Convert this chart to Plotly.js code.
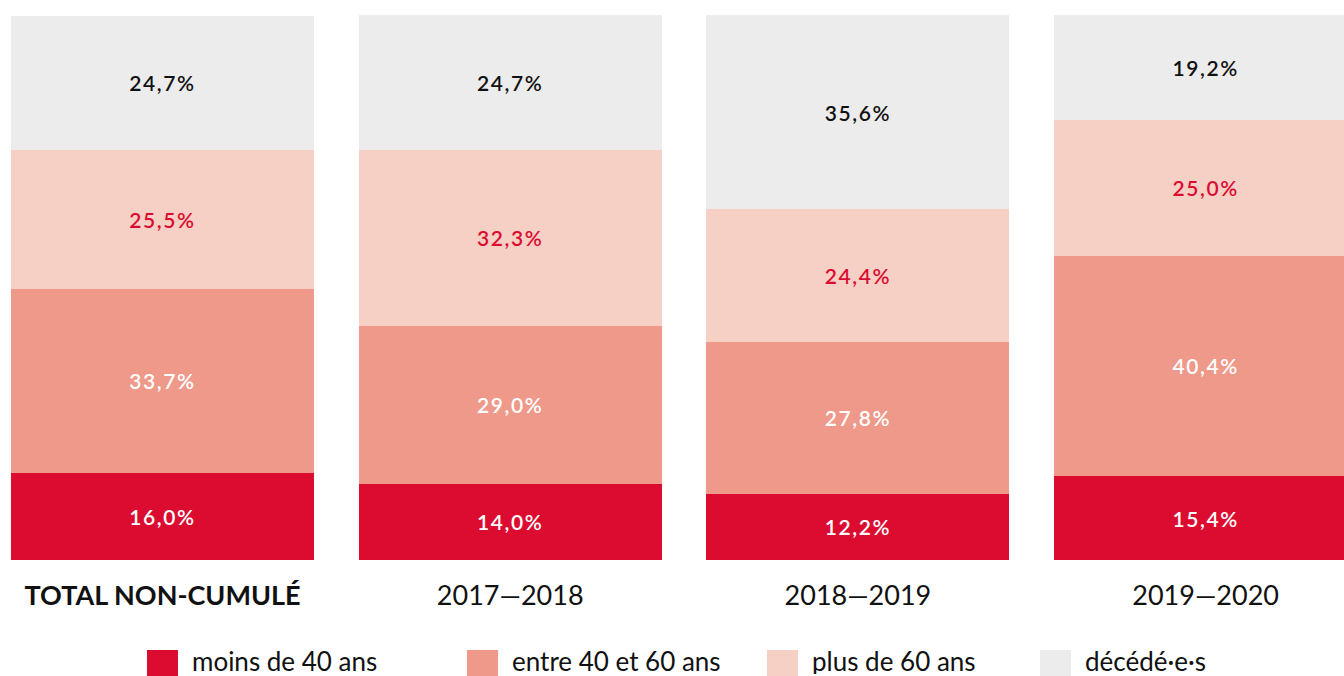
<!DOCTYPE html>
<html>
<head>
<meta charset="utf-8">
<script src="https://cdn.plot.ly/plotly-3.0.1.min.js"></script>
<style>
html,body{margin:0;padding:0;background:#fff;}
#chart{width:1344px;height:676px;}
#chart text.bartext{letter-spacing:1.6px !important;}
</style>
</head>
<body>
<div id="chart"></div>
<script>
// ---- data ----
const categories = ["TOTAL NON-CUMULÉ", "2017–2018", "2018–2019", "2019–2020"];
const categoryLabels = ["<b>TOTAL NON-CUMULÉ</b>", "2017—2018", "2018—2019", "2019—2020"];
const seriesNames = ["moins de 40 ans", "entre 40 et 60 ans", "plus de 60 ans", "décédé·e·s"];
const moins40 = [16.0, 14.0, 12.2, 15.4];
const entre40et60 = [33.7, 29.0, 27.8, 40.4];
const plus60 = [25.5, 32.3, 24.4, 25.0];
const decedes = [24.7, 24.7, 35.6, 19.2];

// ---- style ----
const seriesValues = [moins40, entre40et60, plus60, decedes];
const barColors = ["#DC0C31", "#EE998A", "#F6CFC5", "#ECECEC"];
const textColors = ["#FFFFFF", "#FFFFFF", "#DC0C31", "#111111"];
const FONT = "Lato, 'Open Sans', sans-serif";

function fmt(v) { return v.toFixed(1).replace('.', ',') + '%'; }

const xIdx = categories.map((c, i) => i);

const traces = seriesValues.map((vals, k) => ({
  type: 'bar',
  name: seriesNames[k],
  x: xIdx,
  y: vals,
  text: vals.map(fmt),
  textposition: 'inside',
  insidetextanchor: 'middle',
  textangle: 0,
  constraintext: 'none',
  textfont: { color: textColors[k], size: 21, family: FONT, weight: 600 },
  marker: { color: barColors[k], line: { width: 0 } },
  hoverinfo: 'none',
  showlegend: false
}));

// custom legend (square swatches + labels) in paper coordinates
const legendX = [147, 467, 767, 1040];
const W = 1344;
const shapes = seriesNames.map((n, k) => ({
  type: 'rect', xref: 'paper', yref: 'paper',
  x0: legendX[k] / W, x1: (legendX[k] + 31) / W,
  y0: (560 - 676) / 545, y1: (560 - 650) / 545,
  fillcolor: barColors[k], line: { width: 0 }
}));
const annotations = seriesNames.map((n, k) => ({
  xref: 'paper', yref: 'paper',
  x: (legendX[k] + 44) / W, y: (560 - 661) / 545,
  xanchor: 'left', yanchor: 'middle',
  height: 26, valign: 'middle', borderpad: 0,
  text: n, showarrow: false,
  font: { family: FONT, size: 26, color: '#111' }
}));

const layout = {
  width: 1344, height: 676,
  margin: { l: 0, r: 0, t: 15, b: 116 },
  paper_bgcolor: '#fff', plot_bgcolor: '#fff',
  barmode: 'stack',
  bargap: 0.1286,
  showlegend: false,
  font: { family: FONT, color: '#111' },
  xaxis: {
    range: [-0.4674, 3.398],
    tickmode: 'array', tickvals: xIdx, ticktext: categoryLabels,
    ticks: 'outside', ticklen: 12, tickcolor: 'rgba(0,0,0,0)',
    tickfont: { family: FONT, size: 27, color: '#111' },
    showgrid: false, zeroline: false, showline: false, fixedrange: true
  },
  yaxis: {
    range: [0, 100], visible: false, showgrid: false, zeroline: false, fixedrange: true
  },
  shapes: shapes,
  annotations: annotations
};

Plotly.newPlot('chart', traces, layout, { displayModeBar: false, staticPlot: true });
</script>
</body>
</html>
